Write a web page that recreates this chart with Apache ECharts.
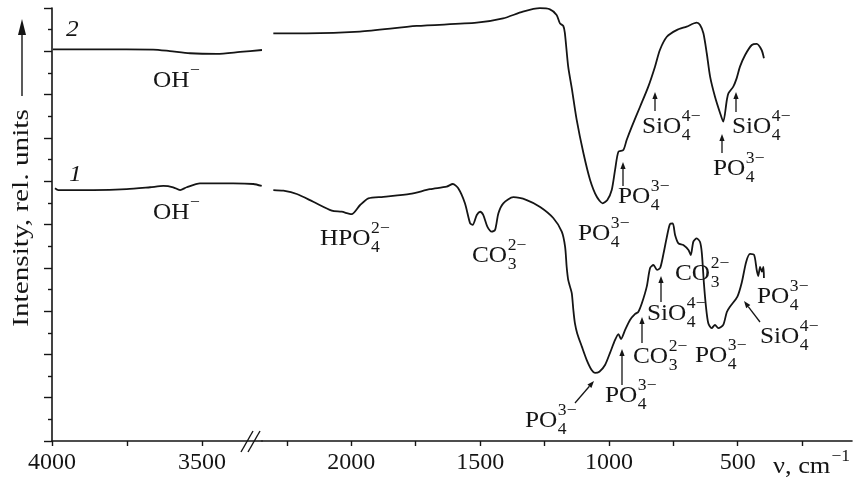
<!DOCTYPE html>
<html><head><meta charset="utf-8">
<script src="https://cdn.jsdelivr.net/npm/echarts@6/dist/echarts.min.js"></script>
<style>html,body{margin:0;padding:0;background:#fff}#c{width:856px;height:477px}</style>
</head><body><div id="c"></div>
<script>
// ---------- data (wavenumber, cm^-1  /  intensity, rel. units) ----------
const curve2LeftWn  = [3997, 3840, 3663, 3607, 3540, 3450, 3373, 3300];
const curve2LeftVal = [18.09, 18.09, 18.08, 18.01, 17.91, 17.88, 17.97, 18.06];
const curve2RightWn  = [2303, 2174, 1967, 1746, 1513, 1411, 1334, 1268, 1229, 1203, 1190, 1177, 1171, 1158, 1144, 1125, 1099, 1073, 1047, 1024, 1006, 989, 976, 963, 944, 931, 911, 879, 847, 821, 802, 775, 737, 698, 659, 646, 633, 620, 607, 588, 568, 556, 542, 536, 517, 504, 491, 471, 445, 426, 407, 398];
const curve2RightVal = [18.83, 18.83, 18.91, 19.17, 19.32, 19.52, 19.83, 19.99, 19.94, 19.68, 19.29, 19.17, 18.85, 17.29, 16.29, 14.83, 13.30, 12.06, 11.28, 10.98, 11.13, 11.59, 12.52, 13.36, 13.44, 13.90, 14.52, 15.44, 16.37, 17.29, 18.06, 18.67, 18.98, 19.14, 19.32, 19.21, 18.83, 17.91, 16.83, 15.90, 15.14, 14.75, 15.75, 16.06, 16.37, 16.75, 17.29, 17.83, 18.29, 18.34, 18.06, 17.68];
const curve1LeftWn  = [3990, 3979, 3862, 3751, 3673, 3629, 3596, 3573, 3551, 3507, 3396, 3329, 3301];
const curve1LeftVal = [11.67, 11.59, 11.59, 11.63, 11.72, 11.78, 11.72, 11.59, 11.72, 11.90, 11.90, 11.87, 11.78];
const curve1RightWn  = [2303, 2264, 2212, 2148, 2076, 2038, 1999, 1966, 1934, 1876, 1772, 1695, 1630, 1606, 1585, 1559, 1539, 1529, 1513, 1500, 1488, 1472, 1455, 1442, 1429, 1410, 1371, 1319, 1267, 1216, 1183, 1170, 1164, 1158, 1151, 1144, 1138, 1132, 1123, 1105, 1086, 1067, 1054, 1037, 1015, 996, 976, 963, 953, 937, 918, 898, 886, 872, 853, 840, 827, 813, 801, 789, 775, 763, 752, 743, 730, 711, 691, 682, 672, 659, 646, 639, 631, 623, 614, 601, 588, 575, 556, 542, 530, 501, 484, 467, 452, 436, 426, 420, 413, 406, 400, 398];
const curve1RightVal = [11.59, 11.56, 11.41, 11.05, 10.64, 10.59, 10.48, 10.90, 11.21, 11.28, 11.41, 11.63, 11.75, 11.87, 11.67, 10.98, 10.06, 9.98, 10.44, 10.59, 10.44, 9.90, 9.67, 9.75, 10.52, 10.98, 11.26, 11.13, 10.81, 10.30, 9.67, 8.97, 8.05, 7.44, 7.13, 6.82, 6.05, 5.44, 4.97, 4.36, 3.74, 3.28, 3.15, 3.20, 3.51, 4.06, 4.67, 4.94, 4.71, 5.13, 5.59, 5.87, 5.96, 6.36, 7.13, 7.99, 8.13, 7.90, 7.99, 8.59, 9.42, 10.02, 10.05, 9.52, 9.13, 9.05, 8.82, 8.59, 9.21, 9.36, 9.19, 8.67, 7.28, 6.20, 5.44, 5.21, 5.36, 5.21, 5.36, 5.96, 6.20, 6.67, 7.32, 8.27, 8.64, 8.59, 7.90, 7.62, 8.04, 7.82, 8.04, 7.53];
const leftTicks = [4000, 3750, 3500];
const leftLabels = [4000, 3500];
const rightTicks = [2250, 2000, 1750, 1500, 1250, 1000, 750, 500, 250];
const rightLabels = [2000, 1500, 1000, 500];

// ---------- chart ----------
const FONT = '"Liberation Serif", "DejaVu Serif", serif';
const INK = '#151515';
const chart = echarts.init(document.getElementById('c'), null, {renderer: 'canvas'});
const zip = (xs, ys) => xs.map((x, i) => [x, ys[i]]);

const ctx = document.createElement('canvas').getContext('2d');
function tw(text, size, style) { ctx.font = (style || '') + ' ' + size + 'px ' + FONT; return ctx.measureText(text).width; }

const MAIN = 23, SMALL = 16, SX = 1.1;
const graphics = [];
function txt(text, x, y, size, style, sx) {
  graphics.push({type: 'text', x: x, y: y, scaleX: sx || SX, silent: true,
    style: {text: text, font: (style || '') + ' ' + size + 'px ' + FONT, fill: INK, textAlign: 'left', textVerticalAlign: 'middle'}});
}
function chem(main, sup, sub, x, y) {
  txt(main, x, y, MAIN);
  const x2 = x + tw(main, MAIN) * SX + 0.5;
  if (sup) txt(sup, x2, y - 10, SMALL);
  if (sub) txt(sub, x2, y + 9, SMALL);
}
function arrow(x1, y1, x2, y2) {
  const a = Math.atan2(y2 - y1, x2 - x1), L = 7, W = 2.6;
  const bx = x2 - L * Math.cos(a), by = y2 - L * Math.sin(a);
  graphics.push({type: 'line', silent: true, shape: {x1: x1, y1: y1, x2: bx, y2: by}, style: {stroke: INK, lineWidth: 1.3}});
  graphics.push({type: 'polygon', silent: true, shape: {points: [[x2, y2],
    [bx + W * Math.sin(a), by - W * Math.cos(a)], [bx - W * Math.sin(a), by + W * Math.cos(a)]]}, style: {fill: INK}});
}

// curve numbers
txt('2', 66, 30, MAIN, 'italic');
txt('1', 69, 175, MAIN, 'italic');
// band labels
chem('OH', '\u2212', null, 153, 81);
chem('OH', '\u2212', null, 153, 213);
chem('HPO', '2\u2212', '4', 320, 239);
chem('CO', '2\u2212', '3', 472, 256);
chem('SiO', '4\u2212', '4', 642, 127);
chem('PO', '3\u2212', '4', 618, 197);
chem('PO', '3\u2212', '4', 713, 169);
chem('SiO', '4\u2212', '4', 732, 127);
chem('PO', '3\u2212', '4', 578, 234);
chem('CO', '2\u2212', '3', 675, 274);
chem('SiO', '4\u2212', '4', 647, 314);
chem('PO', '3\u2212', '4', 757, 297);
chem('SiO', '4\u2212', '4', 760, 337);
chem('PO', '3\u2212', '4', 695, 356);
chem('CO', '2\u2212', '3', 633, 357);
chem('PO', '3\u2212', '4', 605, 396);
chem('PO', '3\u2212', '4', 525, 421);
// arrows
arrow(655, 111, 655, 92);
arrow(623, 186, 623, 162);
arrow(722, 153, 722, 134);
arrow(736, 112, 736, 92);
arrow(661, 302, 661, 276);
arrow(642, 343, 642, 317);
arrow(622, 385, 622, 349);
arrow(575, 403, 594, 381);
arrow(760, 322, 744, 301);
// axis break marks
graphics.push({type: 'line', silent: true, shape: {x1: 241, y1: 452, x2: 253, y2: 431}, style: {stroke: INK, lineWidth: 1.4}});
graphics.push({type: 'line', silent: true, shape: {x1: 248, y1: 452, x2: 260, y2: 431}, style: {stroke: INK, lineWidth: 1.4}});
// axis titles
txt('\u03BD, cm', 773, 467, 24);
txt('\u22121', 773 + tw('\u03BD, cm', 24) * SX + 1, 457, SMALL);
graphics.push({type: 'text', x: 22, y: 218, rotation: Math.PI / 2, scaleX: 1.22, silent: true,
  style: {text: 'Intensity, rel. units', font: '24px ' + FONT, fill: INK, textAlign: 'center', textVerticalAlign: 'middle'}});
graphics.push({type: 'line', silent: true, shape: {x1: 22, y1: 96, x2: 22, y2: 32}, style: {stroke: INK, lineWidth: 1.4}});
graphics.push({type: 'polygon', silent: true, shape: {points: [[22, 19], [18, 35], [26, 35]]}, style: {fill: INK}});

const axisLine = {show: true, lineStyle: {color: INK, width: 1.6}};
const lbl = {color: INK, fontFamily: FONT, fontSize: 24, margin: 10, formatter: v => String(v)};
function lineSeries(xi, data) {
  return {type: 'line', xAxisIndex: xi, yAxisIndex: xi, data: data, showSymbol: false, symbol: 'none',
    smooth: 0.25, clip: false, lineStyle: {color: INK, width: 1.8}, silent: true, animation: false};
}

chart.setOption({
  animation: false,
  grid: [{left: 52, top: 8, width: 210, height: 433}, {left: 262, top: 8, width: 590, height: 433}],
  xAxis: [
    {type: 'value', gridIndex: 0, min: 3300, max: 4000, inverse: true, axisLine: axisLine, splitLine: {show: false},
     axisTick: {show: true, length: 5, lineStyle: {color: INK, width: 1.4}, customValues: leftTicks},
     axisLabel: Object.assign({customValues: leftLabels}, lbl)},
    {type: 'value', gridIndex: 1, min: 56, max: 2347, inverse: true, axisLine: axisLine, splitLine: {show: false},
     axisTick: {show: true, length: 5, lineStyle: {color: INK, width: 1.4}, customValues: rightTicks},
     axisLabel: Object.assign({customValues: rightLabels}, lbl)}
  ],
  yAxis: [
    {type: 'value', gridIndex: 0, min: 0, max: 20, interval: 2, axisLine: axisLine, splitLine: {show: false},
     axisTick: {show: true, length: 8, lineStyle: {color: INK, width: 1.4}},
     minorTick: {show: true, splitNumber: 2, length: 4, lineStyle: {color: INK, width: 1.4}},
     minorSplitLine: {show: false}, axisLabel: {show: false}},
    {type: 'value', gridIndex: 1, min: 0, max: 20, show: false}
  ],
  series: [
    lineSeries(0, zip(curve2LeftWn, curve2LeftVal)),
    lineSeries(1, zip(curve2RightWn, curve2RightVal)),
    lineSeries(0, zip(curve1LeftWn, curve1LeftVal)),
    lineSeries(1, zip(curve1RightWn, curve1RightVal))
  ],
  graphic: {elements: graphics}
});
</script></body></html>
